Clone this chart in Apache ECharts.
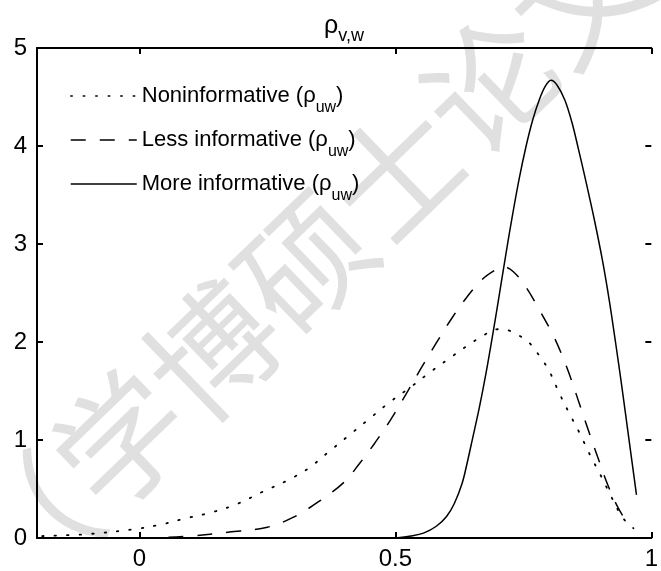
<!DOCTYPE html>
<html>
<head>
<meta charset="utf-8">
<script src="https://cdn.jsdelivr.net/npm/echarts@6/dist/echarts.min.js"></script>
<style>
  html, body { margin: 0; padding: 0; background: #fff; }
  #chart { width: 661px; height: 571px; }
</style>
</head>
<body>
<div id="chart"></div>
<script>
// tick labels
var xTicks = [0, 0.5, 1];
var yTicks = [0, 1, 2, 3, 4, 5];

var names = ['Noninformative', 'Less informative', 'More informative'];

// Noninformative (dotted)
var xNon = [-0.19, -0.10, -0.01, 0.04, 0.09, 0.14, 0.19, 0.24, 0.29, 0.33, 0.37, 0.41, 0.45, 0.49, 0.53, 0.57, 0.61, 0.64, 0.67, 0.70, 0.72, 0.74, 0.76, 0.78, 0.80, 0.82, 0.84, 0.86, 0.88, 0.90, 0.92, 0.94, 0.955, 0.965];
var yNon = [0.02, 0.04, 0.09, 0.135, 0.2, 0.26, 0.345, 0.47, 0.59, 0.71, 0.88, 1.05, 1.22, 1.39, 1.54, 1.70, 1.85, 1.96, 2.06, 2.13, 2.12, 2.07, 2.00, 1.87, 1.71, 1.48, 1.27, 1.07, 0.85, 0.65, 0.44, 0.24, 0.14, 0.10];

// Less informative (dashed)
var xLess = [0.0, 0.05, 0.10, 0.176, 0.25, 0.30, 0.35, 0.40, 0.43, 0.46, 0.49, 0.52, 0.55, 0.58, 0.61, 0.64, 0.67, 0.70, 0.71, 0.73, 0.755, 0.78, 0.81, 0.835, 0.855, 0.875, 0.895, 0.915, 0.935, 0.955];
var yLess = [0.0, 0.005, 0.02, 0.06, 0.11, 0.21, 0.37, 0.57, 0.76, 0.97, 1.20, 1.46, 1.73, 1.99, 2.24, 2.46, 2.64, 2.75, 2.77, 2.72, 2.56, 2.34, 2.05, 1.74, 1.44, 1.13, 0.83, 0.54, 0.31, 0.14];

// More informative (solid)
var xMore = [0.50, 0.53, 0.555, 0.58, 0.60, 0.615, 0.63, 0.64, 0.651, 0.664, 0.677, 0.69, 0.703, 0.716, 0.729, 0.742, 0.755, 0.768, 0.781, 0.793, 0.804, 0.816, 0.831, 0.845, 0.858, 0.87, 0.889, 0.905, 0.918, 0.93, 0.942, 0.956, 0.971];
var yMore = [0.0, 0.02, 0.05, 0.12, 0.22, 0.35, 0.55, 0.76, 1.02, 1.33, 1.68, 2.07, 2.48, 2.90, 3.30, 3.67, 3.99, 4.26, 4.47, 4.61, 4.67, 4.62, 4.47, 4.24, 3.96, 3.69, 3.24, 2.82, 2.42, 2.00, 1.56, 1.02, 0.44];

function zip(xs, ys) {
  return xs.map(function (x, i) { return [x, ys[i]]; });
}

var FONT = '"Liberation Sans Narrow", "Arial Narrow", "Liberation Sans", Arial, sans-serif';

var chart = echarts.init(document.getElementById('chart'));
chart.setOption({
  animation: false,
  title: {
    text: '{a|ρ}{b|v,w}',
    left: 319,
    top: 2,
    textStyle: {
      rich: {
        a: { fontFamily: FONT, fontSize: 25, fontWeight: 'normal', color: '#000' },
        b: { fontFamily: FONT, fontSize: 18, fontWeight: 'normal', color: '#000', padding: [20, 0, 0, 0] }
      }
    }
  },
  graphic: [{
    type: 'text',
    x: 305,
    y: 262,
    rotation: 44 * Math.PI / 180,
    z: -10,
    silent: true,
    style: {
      text: '（学博硕士论文',
      font: '128px "Noto Sans CJK SC"',
      fill: '#e0e0e0',
      align: 'center',
      verticalAlign: 'middle'
    }
  }],
  legend: {
    orient: 'vertical',
    left: 65,
    top: 80,
    itemWidth: 66,
    itemHeight: 14,
    itemGap: 13,
    data: names,
    itemStyle: { opacity: 0, borderWidth: 0 },
    lineStyle: { type: 'inherit', width: 1.5 },
    formatter: function (name) {
      return '{t|' + name + ' (ρ}{s|uw}{t|)}';
    },
    textStyle: {
      rich: {
        t: { fontFamily: FONT, fontSize: 22, color: '#000' },
        s: { fontFamily: FONT, fontSize: 16, color: '#000', padding: [24, 0, 0, 0] }
      }
    }
  },
  grid: {
    left: 37,
    right: 0,
    top: 48,
    bottom: 31
  },
  xAxis: [{
    type: 'value',
    position: 'bottom',
    min: -0.2,
    max: 1,
    splitLine: { show: false },
    axisLine: { onZero: false, lineStyle: { color: '#000', width: 2 } },
    axisTick: { inside: true, length: 6, customValues: xTicks, lineStyle: { color: '#000', width: 2 } },
    axisLabel: { customValues: xTicks, color: '#000', fontFamily: FONT, fontSize: 24, margin: 9 }
  }, {
    type: 'value',
    position: 'top',
    min: -0.2,
    max: 1,
    splitLine: { show: false },
    axisLine: { onZero: false, lineStyle: { color: '#000', width: 2 } },
    axisTick: { inside: true, length: 6, customValues: xTicks, lineStyle: { color: '#000', width: 2 } },
    axisLabel: { show: false }
  }],
  yAxis: [{
    type: 'value',
    position: 'left',
    min: 0,
    max: 5,
    interval: 1,
    splitLine: { show: false },
    axisLine: { show: true, onZero: false, lineStyle: { color: '#000', width: 2 } },
    axisTick: { show: true, inside: true, length: 6, lineStyle: { color: '#000', width: 2 } },
    axisLabel: { color: '#000', fontFamily: FONT, fontSize: 24, margin: 10,
      customValues: yTicks }
  }, {
    type: 'value',
    position: 'right',
    min: 0,
    max: 5,
    interval: 1,
    splitLine: { show: false },
    axisLine: { show: false, onZero: false },
    axisTick: { show: true, inside: true, length: 6, lineStyle: { color: '#000', width: 2 } },
    axisLabel: { show: false }
  }],
  series: [{
    name: names[0],
    type: 'line',
    symbol: 'none',
    smooth: 0.35,
    data: zip(xNon, yNon),
    lineStyle: { color: '#000', width: 1.8, type: [1.5, 11], cap: 'round' },
    itemStyle: { color: '#000' }
  }, {
    name: names[1],
    type: 'line',
    symbol: 'none',
    smooth: 0.35,
    data: zip(xLess, yLess),
    lineStyle: { color: '#000', width: 1.5, type: [15, 14] },
    itemStyle: { color: '#000' }
  }, {
    name: names[2],
    type: 'line',
    symbol: 'none',
    smooth: 0.35,
    data: zip(xMore, yMore),
    lineStyle: { color: '#000', width: 1.5 },
    itemStyle: { color: '#000' }
  }]
});
</script>
</body>
</html>
